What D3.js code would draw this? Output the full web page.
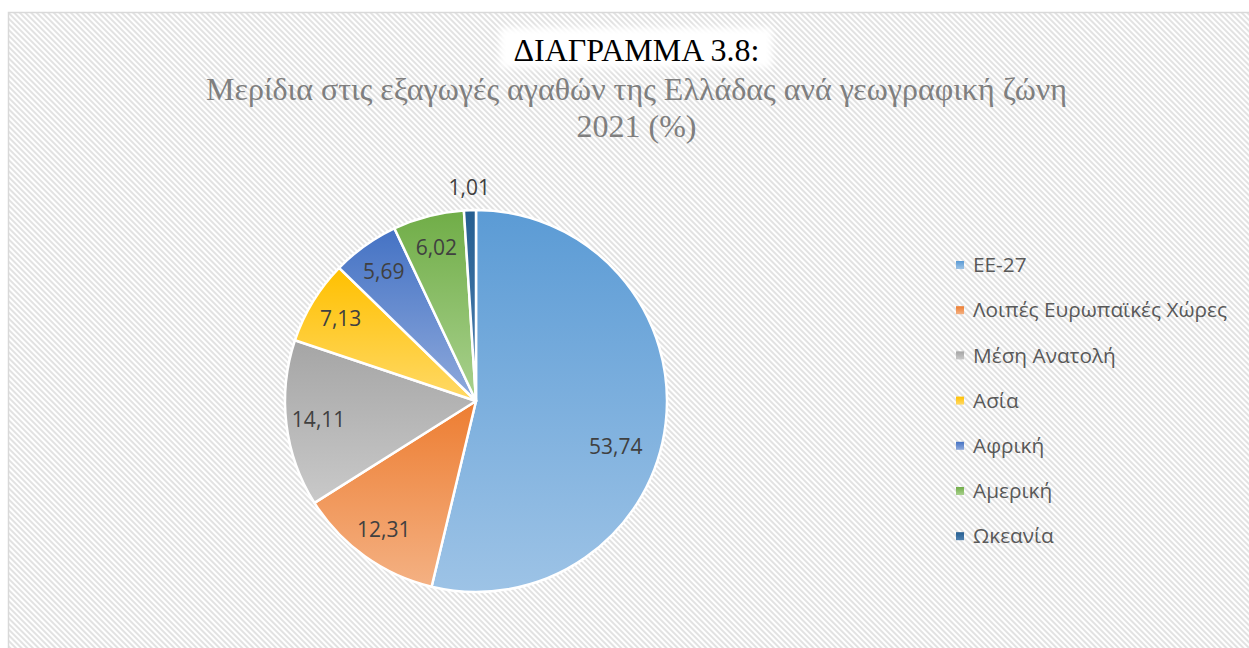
<!DOCTYPE html>
<html>
<head>
<meta charset="utf-8">
<script src="https://cdn.jsdelivr.net/npm/d3@7"></script>
<style>
  body { margin: 0; background: #fff; overflow: hidden; }
  svg { display: block; }
</style>
</head>
<body>
<div id="chart"></div>
<script>
/* DATA */
const regions = ["ΕΕ-27", "Λοιπές Ευρωπαϊκές Χώρες", "Μέση Ανατολή", "Ασία", "Αφρική", "Αμερική", "Ωκεανία"];
const shares = [53.74, 12.31, 14.11, 7.13, 5.69, 6.02, 1.01];
const baseColors = ["#5b9bd5", "#ed7d31", "#a5a5a5", "#ffc000", "#4472c4", "#70ad47", "#255e91"];
const lightColors = ["#9dc3e6", "#f4b183", "#c9c9c9", "#ffd966", "#8faadc", "#a9d18e", "#4f81b0"];
const titleText = "ΔΙΑΓΡΑΜΜΑ 3.8:";
const subtitleLines = ["Μερίδια στις εξαγωγές αγαθών της Ελλάδας ανά γεωγραφική ζώνη", "2021 (%)"];

const width = 1249, height = 648;
const cx = 476, cy = 401, radius = 191;

const svg = d3.select("#chart").append("svg")
  .attr("width", width)
  .attr("height", height);

const defs = svg.append("defs");

// striped chart-area background
const pat = defs.append("pattern")
  .attr("id", "stripes")
  .attr("patternUnits", "userSpaceOnUse")
  .attr("width", 4)
  .attr("height", 4)
  .attr("patternTransform", "rotate(-45)");
pat.append("rect").attr("width", 4).attr("height", 4).attr("fill", "#ffffff");
pat.append("rect").attr("width", 2).attr("height", 4).attr("fill", "#e2e2e2");

// one vertical gradient per slice
regions.forEach((r, i) => {
  const g = defs.append("linearGradient")
    .attr("id", "grad" + i)
    .attr("x1", 0).attr("y1", 0).attr("x2", 0).attr("y2", 1);
  g.append("stop").attr("offset", "0%").attr("stop-color", baseColors[i]);
  g.append("stop").attr("offset", "100%").attr("stop-color", lightColors[i]);
});

const blur = defs.append("filter").attr("id", "soft")
  .attr("x", "-10%").attr("y", "-30%").attr("width", "120%").attr("height", "160%");
blur.append("feGaussianBlur").attr("stdDeviation", 3);

// chart area
svg.append("rect")
  .attr("x", 8.5).attr("y", 12.5)
  .attr("width", width + 10).attr("height", height + 10)
  .attr("fill", "url(#stripes)")
  .attr("stroke", "#d9d9d9")
  .attr("stroke-width", 1.5);

// TITLE
svg.append("rect")
  .attr("x", 500).attr("y", 28)
  .attr("width", 272).attr("height", 40)
  .attr("fill", "#ffffff")
  .attr("filter", "url(#soft)");

svg.append("text")
  .attr("x", width / 2 + 12)
  .attr("y", 61)
  .attr("text-anchor", "middle")
  .attr("font-family", "Liberation Serif, Times New Roman, serif")
  .attr("font-size", 32)
  .attr("fill", "#000")
  .text(titleText);

svg.append("g")
  .selectAll("text")
  .data(subtitleLines)
  .join("text")
  .attr("x", width / 2 + 12)
  .attr("y", (d, i) => 100 + i * 37)
  .attr("text-anchor", "middle")
  .attr("font-family", "Liberation Serif, Times New Roman, serif")
  .attr("font-size", 32)
  .attr("fill", "#7f7f7f")
  .text(d => d);

// PIE
const pie = d3.pie().sort(null).value(d => d);
const arcs = pie(shares);
const arc = d3.arc().innerRadius(0).outerRadius(radius);
const labelArc = d3.arc().innerRadius(radius * 0.83).outerRadius(radius * 0.83);
const bigArc = d3.arc().innerRadius(radius * 0.77).outerRadius(radius * 0.77);
const outArc = d3.arc().innerRadius(radius + 22).outerRadius(radius + 22);

const pieG = svg.append("g").attr("transform", `translate(${cx},${cy})`);

pieG.selectAll("path.slice")
  .data(arcs)
  .join("path")
  .attr("class", "slice")
  .attr("d", arc)
  .attr("fill", (d, i) => `url(#grad${i})`)
  .attr("stroke", "#ffffff")
  .attr("stroke-width", 2.5)
  .attr("stroke-linejoin", "round");

pieG.selectAll("text.label")
  .data(arcs)
  .join("text")
  .attr("class", "label")
  .attr("transform", d => {
    let c;
    if (d.value < 2) c = outArc.centroid(d);
    else if (d.value > 50) {
      // best-fit placement of the big slice label sits a bit lower in the original
      c = bigArc.centroid({ startAngle: d.startAngle + 0.2, endAngle: d.endAngle + 0.2 });
    }
    else c = labelArc.centroid(d);
    return `translate(${c[0]},${c[1]})`;
  })
  .attr("text-anchor", "middle")
  .attr("dy", "0.35em")
  .attr("font-family", "Open Sans, Noto Sans, sans-serif")
  .attr("font-size", 21)
  .attr("fill", "#404040")
  .text(d => d3.format(".2f")(d.value).replace(".", ","));

// LEGEND
const legend = svg.append("g").attr("transform", "translate(956,265)");
const items = legend.selectAll("g")
  .data(regions)
  .join("g")
  .attr("transform", (d, i) => `translate(0,${i * 45.2})`);

items.append("rect")
  .attr("x", 0).attr("y", -4)
  .attr("width", 8).attr("height", 8)
  .attr("fill", (d, i) => `url(#grad${i})`);

items.append("text")
  .attr("x", 17)
  .attr("dy", "0.35em")
  .attr("font-family", "Open Sans, Noto Sans, sans-serif")
  .attr("font-size", 20.8)
  .attr("fill", "#595959")
  .text(d => d);
</script>
</body>
</html>
